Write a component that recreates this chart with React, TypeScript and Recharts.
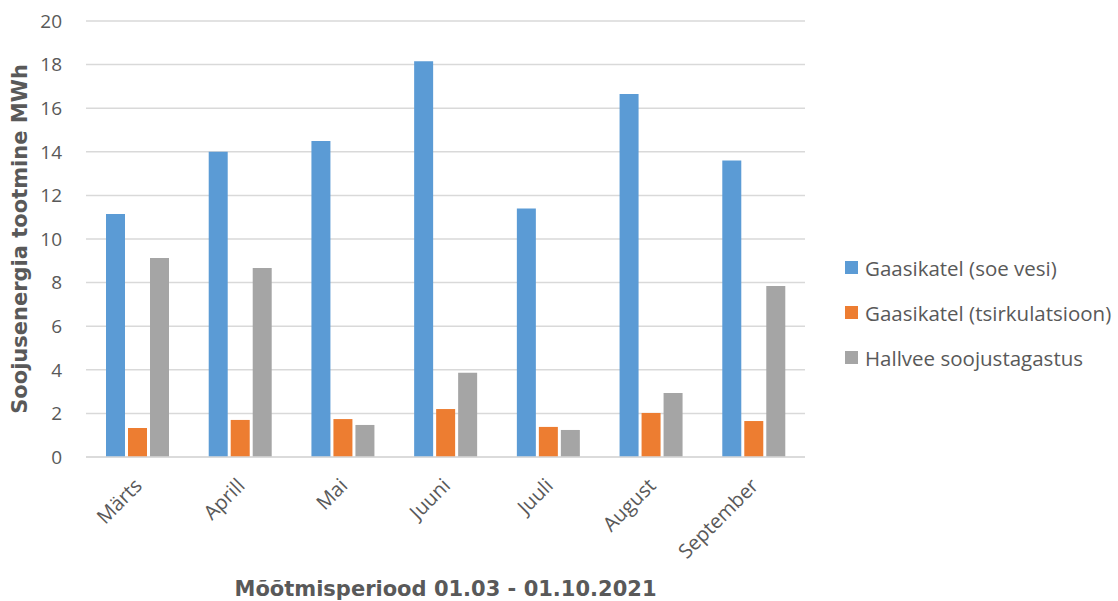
import { BarChart, Bar, XAxis, YAxis, CartesianGrid, Label } from 'recharts'

const MONTHS = ['Märts', 'Aprill', 'Mai', 'Juuni', 'Juuli', 'August', 'September']
const HOT_WATER = [11.15, 14.0, 14.5, 18.15, 11.4, 16.65, 13.6]
const CIRCULATION = [1.33, 1.7, 1.74, 2.2, 1.38, 2.02, 1.65]
const GREYWATER = [9.13, 8.67, 1.47, 3.86, 1.24, 2.94, 7.84]
const Y_TICKS = [0, 2, 4, 6, 8, 10, 12, 14, 16, 18, 20]

const SERIES = [
  { key: 'hot', name: 'Gaasikatel (soe vesi)', color: '#5B9BD5' },
  { key: 'circ', name: 'Gaasikatel (tsirkulatsioon)', color: '#ED7D31' },
  { key: 'grey', name: 'Hallvee soojustagastus', color: '#A5A5A5' },
]

const data = MONTHS.map((month, i) => ({
  month,
  hot: HOT_WATER[i],
  circ: CIRCULATION[i],
  grey: GREYWATER[i],
}))

const TEXT = '#595959'
const FONT = '"Open Sans", sans-serif'
const TITLE_FONT = '"DejaVu Sans", Verdana, sans-serif'

function MonthTick({ x, y, payload }: any) {
  const ax = x + 6
  const ay = y + 22
  return (
    <text
      x={ax}
      y={ay}
      textAnchor="end"
      transform={`rotate(-45, ${ax}, ${ay})`}
      fill={TEXT}
      fontSize={20}
      fontFamily={FONT}
    >
      {payload.value}
    </text>
  )
}

// legend sits to the right of the plot, outside the svg
function SideLegend() {
  return (
    <div
      style={{
        position: 'absolute',
        left: 845,
        top: 245,
        fontFamily: FONT,
        fontSize: 20.5,
        color: TEXT,
        whiteSpace: 'nowrap',
      }}
    >
      {SERIES.map((s) => (
        <div key={s.key} style={{ display: 'flex', alignItems: 'center', height: 45 }}>
          <span style={{ width: 13, height: 13, background: s.color, marginRight: 7 }} />
          {s.name}
        </div>
      ))}
    </div>
  )
}

export default function App() {
  return (
    <div style={{ position: 'absolute', left: 0, top: 0, width: 1118, height: 601, background: '#fff' }}>
      <BarChart
        width={1118}
        height={601}
        data={data}
        margin={{ top: 21, right: 313, bottom: 0, left: 0 }}
        barSize={19}
        barGap={3}
      >
        <CartesianGrid vertical={false} stroke="#d9d9d9" strokeWidth={1.5} />
        <XAxis
          dataKey="month"
          height={144}
          tick={<MonthTick />}
          tickLine={false}
          axisLine={{ stroke: '#d9d9d9', strokeWidth: 1.5 }}
          interval={0}
        >
          <Label
            value="Mõõtmisperiood 01.03 - 01.10.2021"
            position="insideBottom"
            offset={5}
            style={{ fontFamily: TITLE_FONT, fontWeight: 'bold', fontSize: 21, fill: TEXT }}
          />
        </XAxis>
        <YAxis
          width={86}
          domain={[0, 20]}
          ticks={Y_TICKS}
          tickLine={false}
          axisLine={false}
          tickMargin={18}
          tick={{ fill: TEXT, fontSize: 19, fontFamily: FONT }}
        >
          <Label
            value="Soojusenergia tootmine MWh"
            angle={-90}
            position="insideLeft"
            offset={20}
            style={{ textAnchor: 'middle', fontFamily: TITLE_FONT, fontWeight: 'bold', fontSize: 21, fill: TEXT }}
          />
        </YAxis>
        {SERIES.map((s) => (
          <Bar key={s.key} dataKey={s.key} name={s.name} fill={s.color} isAnimationActive={false} />
        ))}
      </BarChart>
      <SideLegend />
    </div>
  )
}
